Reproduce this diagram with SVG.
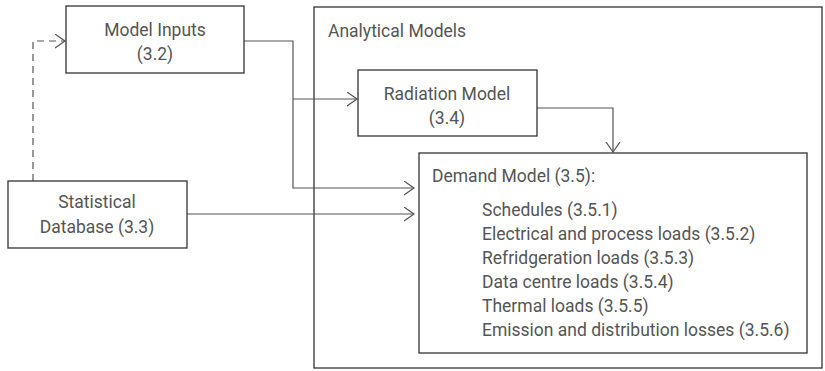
<svg xmlns="http://www.w3.org/2000/svg" width="825" height="371" viewBox="0 0 825 371">
<style>
.box{fill:#fff;stroke:#333;stroke-width:1.3}
.outer{fill:none;stroke:#222;stroke-width:1.2}
.t{font-family:Roboto,"Liberation Sans",sans-serif;font-size:17.5px;fill:#555}
.c{text-anchor:middle}
.ln{fill:none;stroke:#555;stroke-width:1.2}
.dash{stroke-dasharray:7,5}
</style>
<defs>
<marker id="ah" markerUnits="userSpaceOnUse" markerWidth="12" markerHeight="16" refX="10" refY="7" orient="auto">
<path d="M0,0 L10,7 L0,14" fill="none" stroke="#555" stroke-width="1.2"/>
</marker>
</defs>
<g id="analytical-models">
<rect class="outer" x="314" y="7" width="508" height="361"/>
<text class="t" x="328" y="37">Analytical Models</text>
</g>
<g id="connectors">
<path class="ln dash" d="M33,181 V41 H65" marker-end="url(#ah)"/>
<path class="ln" d="M244,41 H293 V188 H414" marker-end="url(#ah)"/>
<path class="ln" d="M293,99 H357" marker-end="url(#ah)"/>
<path class="ln" d="M537,108 H613 V152" marker-end="url(#ah)"/>
<path class="ln" d="M187,214 H414" marker-end="url(#ah)"/>
</g>
<g id="model-inputs">
<rect class="box" x="66" y="6" width="178" height="67"/>
<text class="t c" x="155" y="36">Model Inputs</text>
<text class="t c" x="155" y="60">(3.2)</text>
</g>
<g id="radiation-model">
<rect class="box" x="358" y="70" width="179" height="66"/>
<text class="t c" x="447" y="100">Radiation Model</text>
<text class="t c" x="447" y="124">(3.4)</text>
</g>
<g id="statistical-database">
<rect class="box" x="8" y="181" width="179" height="67"/>
<text class="t c" x="97" y="208">Statistical</text>
<text class="t c" x="97" y="233">Database (3.3)</text>
</g>
<g id="demand-model">
<rect class="box" x="419" y="153" width="388" height="200"/>
<text class="t" x="432" y="182">Demand Model (3.5):</text>
<text class="t" x="482" y="216">Schedules (3.5.1)</text>
<text class="t" x="482" y="240">Electrical and process loads (3.5.2)</text>
<text class="t" x="482" y="264">Refridgeration loads (3.5.3)</text>
<text class="t" x="482" y="288">Data centre loads (3.5.4)</text>
<text class="t" x="482" y="312">Thermal loads (3.5.5)</text>
<text class="t" x="482" y="336">Emission and distribution losses (3.5.6)</text>
</g>
</svg>
